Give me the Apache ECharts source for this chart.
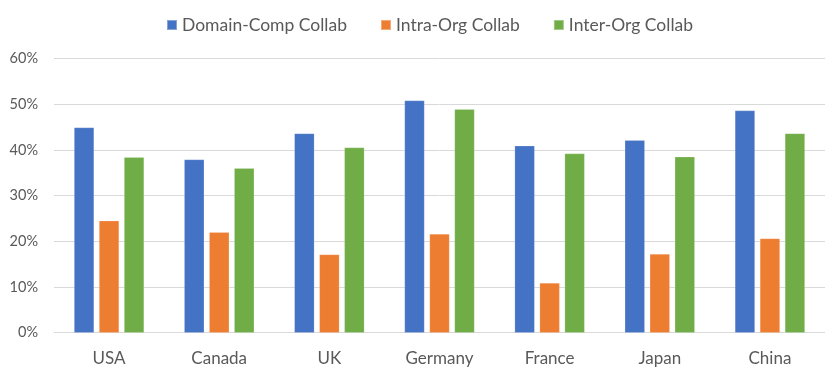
<!DOCTYPE html>
<html>
<head>
<meta charset="utf-8">
<script src="https://cdn.jsdelivr.net/npm/echarts@6/dist/echarts.min.js"></script>
<style>
  html, body { margin: 0; padding: 0; background: #fff; }
  #chart { width: 825px; height: 371px; }
</style>
</head>
<body>
<div id="chart"></div>
<script>
// Collaboration shares by country (percent)
const countries = ['USA', 'Canada', 'UK', 'Germany', 'France', 'Japan', 'China'];
const domainComp = [44.9, 37.9, 43.6, 50.8, 40.9, 42.1, 48.6];
const intraOrg   = [24.5, 22.0, 17.1, 21.6, 10.9, 17.2, 20.6];
const interOrg   = [38.4, 36.0, 40.5, 48.9, 39.2, 38.5, 43.6];
const seriesNames = ['Domain-Comp Collab', 'Intra-Org Collab', 'Inter-Org Collab'];
const colors = ['#4472C4', '#ED7D31', '#70AD47'];

const font = 'Lato, "Open Sans", sans-serif';
const chart = echarts.init(document.getElementById('chart'));

const makeSeries = (name, data, color) => ({
  name: name,
  type: 'bar',
  data: data,
  barWidth: 20,
  barGap: '25%',
  itemStyle: { color: color, borderColor: 'rgba(255,255,255,0.35)', borderWidth: 0.5 }
});

chart.setOption({
  animation: false,
  textStyle: { fontFamily: font },
  legend: {
    top: 11,
    left: 161,
    itemWidth: 10,
    itemHeight: 10,
    itemGap: 33,
    icon: 'rect',
    textStyle: { fontSize: 17.5, color: '#595959', fontFamily: font },
    data: seriesNames
  },
  grid: { left: 54, top: 58.5, width: 778, height: 274.2, containLabel: false },
  xAxis: {
    type: 'category',
    data: countries,
    axisLine: { lineStyle: { color: '#d9d9d9', width: 1 } },
    axisTick: { show: false },
    axisLabel: { color: '#595959', fontSize: 17, margin: 17, fontFamily: font }
  },
  yAxis: {
    type: 'value',
    min: 0,
    max: 60,
    interval: 10,
    axisLine: { show: false },
    axisTick: { show: false },
    splitLine: { lineStyle: { color: '#d9d9d9', width: 1 } },
    axisLabel: { color: '#595959', fontSize: 14.5, margin: 16, formatter: '{value}%', fontFamily: font }
  },
  series: [
    makeSeries(seriesNames[0], domainComp, colors[0]),
    makeSeries(seriesNames[1], intraOrg, colors[1]),
    makeSeries(seriesNames[2], interOrg, colors[2])
  ]
});
</script>
</body>
</html>
